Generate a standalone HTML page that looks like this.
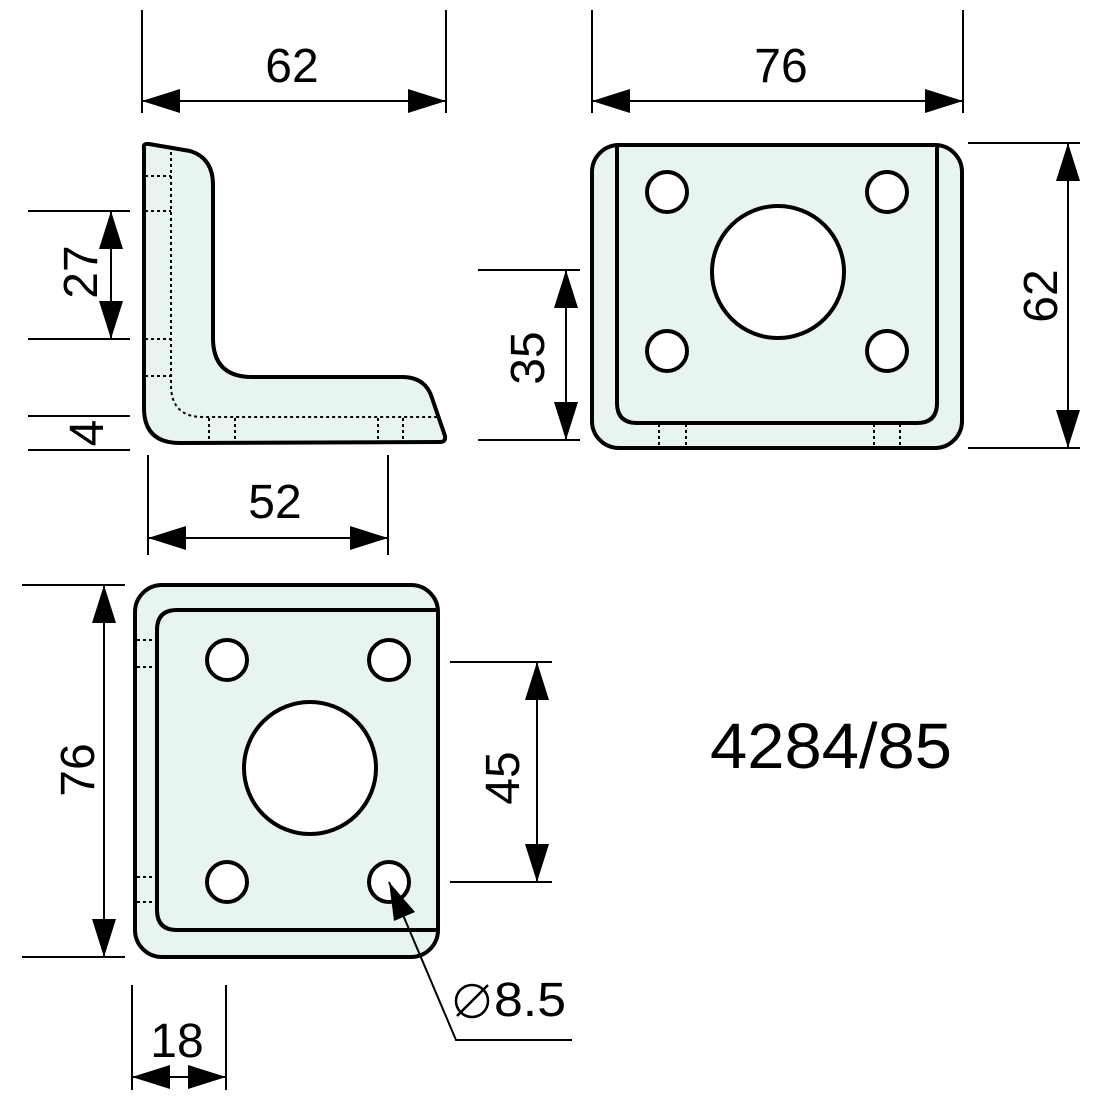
<!DOCTYPE html>
<html><head><meta charset="utf-8"><style>html,body{margin:0;padding:0;background:#fff}svg{display:block}</style></head>
<body>
<svg width="1100" height="1100" viewBox="0 0 1100 1100" xmlns="http://www.w3.org/2000/svg" font-family="Liberation Sans, sans-serif" font-size="48">
<g fill="#e8f4f2" stroke="#000" stroke-width="4" stroke-linejoin="round">
<!-- L shape -->
<path d="M144,148 Q143,143 149,144 L190,151 Q213,158 213,185 L213,338 Q213,377 252,377 L404,377 Q426,378 432,398 L445,436 Q446,442 440,442 L180,443 Q144,443 144,408 Z"/>
<!-- top right view -->
<rect x="592" y="145" width="370" height="303" rx="27"/>
<path d="M617,145 L617,403 Q617,423 637,423 L917,423 Q937,423 937,403 L937,145" fill="none"/>
<!-- bottom left view -->
<rect x="135" y="585" width="303" height="372" rx="27"/>
<path d="M438,610 L177,610 Q157,610 157,630 L157,910 Q157,930 177,930 L438,930" fill="none"/>
</g>
<g fill="#fff" stroke="#000" stroke-width="4">
<circle cx="667" cy="192" r="20"/><circle cx="887" cy="192" r="20"/>
<circle cx="667" cy="351" r="20"/><circle cx="887" cy="351" r="20"/>
<circle cx="778" cy="272" r="66"/>
<circle cx="227" cy="660" r="20"/><circle cx="389" cy="660" r="20"/>
<circle cx="227" cy="882" r="20"/><circle cx="389" cy="882" r="20"/>
<circle cx="310" cy="768" r="66"/>
</g>
<!-- dotted hidden lines -->
<g fill="none" stroke="#000" stroke-width="2" stroke-dasharray="3,3">
<path d="M171,152 L171,385 Q171,417 203,417 L437,417"/>
<path d="M145,176H171M145,211H171M145,339H171M145,376H171"/>
<path d="M209,418V443M235,418V443M378,418V443M403,418V443"/>
<path d="M659,424V447M686,424V447M874,424V447M900,424V447"/>
<path d="M137,640H157M137,667H157M137,877H157M137,902H157"/>
</g>
<!-- dimension lines -->
<g stroke="#000" stroke-width="2" fill="none">
<path d="M142,10V113M446,10V113M142,101H446"/>
<path d="M592,10V113M963,10V113M592,101H963"/>
<path d="M968,143H1080M968,448H1080M1068,143V448"/>
<path d="M478,270H580M478,440H580M566,270V440"/>
<path d="M28,211H130M28,339H130M111,211V339"/>
<path d="M28,416H130M28,450H130"/>
<path d="M148,455V555M388,455V555M148,538H388"/>
<path d="M22,585H125M22,957H125M104,585V957"/>
<path d="M450,662H552M450,882H552M537,662V882"/>
<path d="M132,985V1090M226,985V1090M132,1077H226"/>
<path d="M389,882L456,1040H572"/>
</g>
<g fill="#000">
<polygon points="142,101 180,89 180,113"/><polygon points="446,101 408,89 408,113"/>
<polygon points="592,101 630,89 630,113"/><polygon points="963,101 925,89 925,113"/>
<polygon points="1068,143 1056,181 1080,181"/><polygon points="1068,448 1056,410 1080,410"/>
<polygon points="566,270 554,308 578,308"/><polygon points="566,440 554,402 578,402"/>
<polygon points="111,211 99,249 123,249"/><polygon points="111,339 99,301 123,301"/>
<polygon points="148,538 186,526 186,550"/><polygon points="388,538 350,526 350,550"/>
<polygon points="104,585 92,623 116,623"/><polygon points="104,957 92,919 116,919"/>
<polygon points="537,662 525,700 549,700"/><polygon points="537,882 525,844 549,844"/>
<polygon points="132,1077 170,1065 170,1089"/><polygon points="226,1077 188,1065 188,1089"/>
<polygon points="389,882 394,921 415,912"/>
</g>
<g fill="#000" text-anchor="middle">
<text x="292" y="82">62</text>
<text x="781" y="82">76</text>
<text x="275" y="518">52</text>
<text x="177" y="1057">18</text>
<text x="1040" y="313" transform="rotate(-90 1040 296)">62</text>
<text x="527" y="375" transform="rotate(-90 527 358)">35</text>
<text x="80" y="289" transform="rotate(-90 80 272)">27</text>
<text x="86" y="450" transform="rotate(-90 86 433)">4</text>
<text x="77" y="787" transform="rotate(-90 77 770)">76</text>
<text x="502" y="795" transform="rotate(-90 502 778)">45</text>
<text x="831" y="768" font-size="64" textLength="242" lengthAdjust="spacingAndGlyphs">4284/85</text>
<text x="530" y="1016" textLength="72" lengthAdjust="spacingAndGlyphs">8.5</text>
</g>
<g fill="none" stroke="#000" stroke-width="2.5">
<circle cx="472" cy="1001" r="16"/><path d="M457,1016L488,985"/>
</g>
</svg>
</body></html>
